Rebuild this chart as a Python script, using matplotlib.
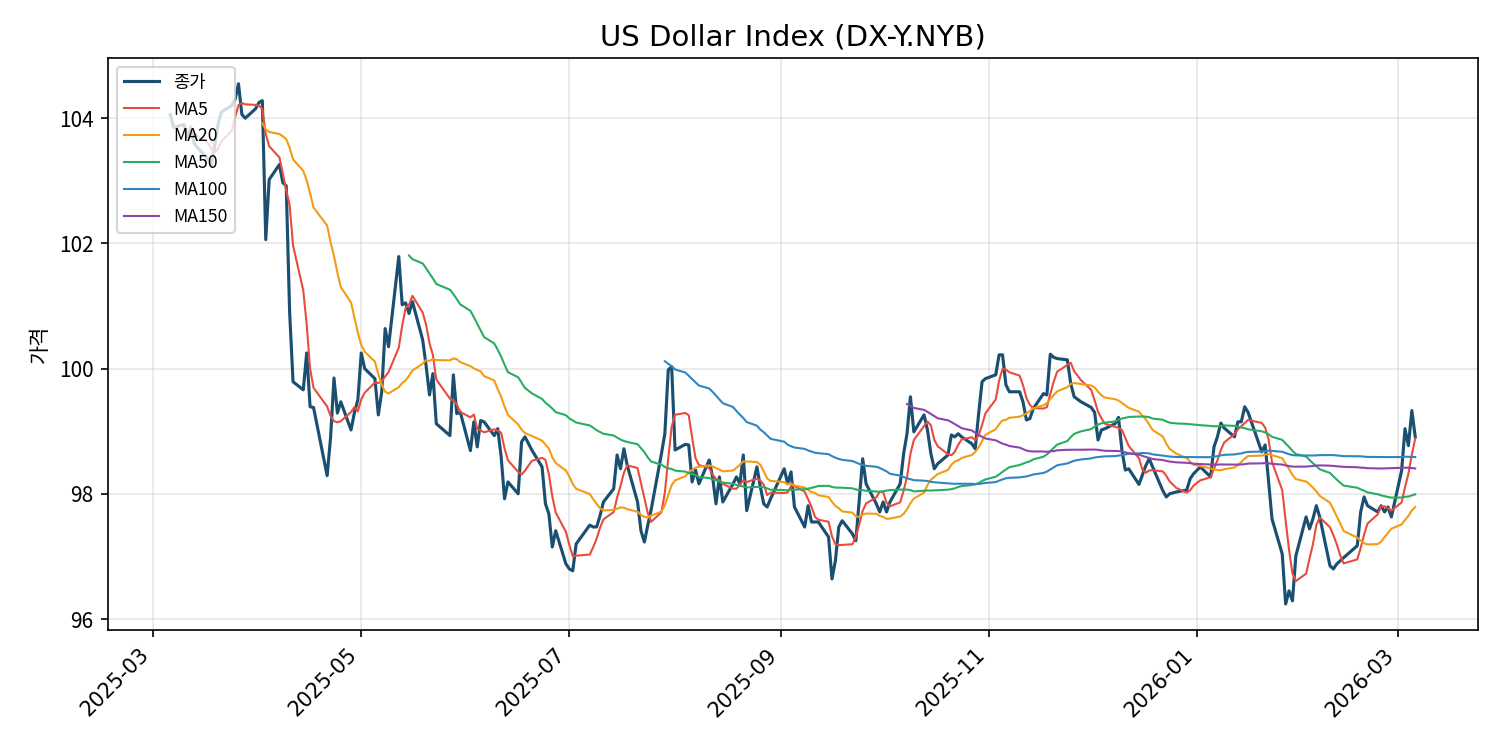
import matplotlib
matplotlib.use("Agg")
import matplotlib.pyplot as plt
import matplotlib.dates as mdates
import pandas as pd

plt.rcParams['font.family'] = ['Noto Sans CJK KR', 'DejaVu Sans']
plt.rcParams['axes.unicode_minus'] = False

# trading days (ICE closures removed)
holidays = ['2025-04-18', '2025-05-26', '2025-06-19', '2025-07-04', '2025-09-01',
            '2025-11-27', '2025-12-25', '2026-01-01', '2026-01-19', '2026-02-16']
dates = pd.bdate_range('2025-03-06', '2026-03-06').drop(pd.to_datetime(holidays))

# daily close
close_2025_03 = [104.06, 103.85, 103.90, 103.70, 103.85, 103.60, 103.53, 103.35, 103.24, 103.55,
                 103.90, 104.10, 104.20, 104.30, 104.55, 104.06, 104.00, 104.15]
close_2025_04 = [104.25, 104.28, 102.06, 103.02, 103.26, 102.97, 102.92, 100.90, 99.79, 99.66,
                 100.25, 99.39, 99.38, 98.29, 98.90, 99.85, 99.29, 99.47, 99.02, 99.30, 99.50]
close_2025_05 = [100.25, 100.00, 99.84, 99.26, 99.63, 100.64, 100.35, 101.79, 101.02, 101.05,
                 100.88, 101.07, 100.46, 100.05, 99.58, 99.92, 99.12, 98.93, 99.90, 99.28, 99.31]
close_2025_06 = [98.69, 99.15, 98.75, 99.17, 99.15, 98.93, 99.04, 98.60, 97.92, 98.19,
                 98.00, 98.83, 98.91, 98.70, 98.43, 97.84, 97.68, 97.15, 97.41, 96.88]
close_2025_07 = [96.80, 96.77, 97.20, 97.50, 97.47, 97.47, 97.65, 97.87, 98.08, 98.62,
                 98.40, 98.72, 98.45, 97.87, 97.41, 97.23, 97.50, 97.75, 98.64, 98.96, 99.98, 100.03]
close_2025_08 = [98.70, 98.79, 98.78, 98.19, 98.38, 98.16, 98.54, 98.27, 97.84, 98.27,
                 97.87, 98.16, 98.27, 98.16, 98.62, 97.73, 98.43, 98.11, 97.84, 97.79, 97.92]
close_2025_09 = [98.40, 98.16, 98.35, 97.79, 97.47, 97.81, 97.55, 97.55, 97.55,
                 97.31, 96.64, 96.93, 97.47, 97.57, 97.36, 97.25, 97.90, 98.56, 98.16, 97.84, 97.71]
close_2025_10 = [97.87, 97.71, 97.87, 98.16, 98.64, 98.96, 99.55, 98.99, 99.26, 99.02,
                 98.64, 98.40, 98.48, 98.62, 98.94, 98.91, 98.96, 98.91, 98.80, 98.72, 99.28, 99.79, 99.84]
close_2025_11 = [99.90, 100.22, 100.22, 99.74, 99.63, 99.63, 99.47, 99.18, 99.20, 99.36,
                 99.60, 99.58, 100.23, 100.18, 100.16, 100.14, 99.76, 99.55, 99.47]
close_2025_12 = [99.38, 99.30, 98.86, 99.02, 99.04, 99.12, 99.22, 98.70, 98.38, 98.40,
                 98.15, 98.30, 98.45, 98.56, 98.43, 98.05, 97.95, 98.00, 98.03, 98.06, 98.24, 98.32]
close_2026_01 = [98.43, 98.27, 98.75, 98.91, 99.13, 99.05, 98.91, 99.15, 99.15, 99.39,
                 99.30, 98.67, 98.78, 98.20, 97.60, 97.04, 96.24, 96.45, 96.29, 97.01]
close_2026_02 = [97.63, 97.44, 97.60, 97.81, 97.63, 96.85, 96.80, 96.88, 96.93, 96.98,
                 97.17, 97.71, 97.95, 97.81, 97.71, 97.81, 97.71, 97.79, 97.63]
close_2026_03 = [98.37, 99.04, 98.77, 99.33, 98.91]

close = pd.Series(close_2025_03 + close_2025_04 + close_2025_05 + close_2025_06 + close_2025_07
                  + close_2025_08 + close_2025_09 + close_2025_10 + close_2025_11 + close_2025_12
                  + close_2026_01 + close_2026_02 + close_2026_03, index=dates)

ma_windows = [5, 20, 50, 100, 150]
ma_colors = ['#E74C3C', '#F39C12', '#27AE60', '#2E86C1', '#8E44AD']

fig, ax = plt.subplots(figsize=(10, 5), dpi=150)
ax.plot(close.index, close.values, color='#1B4F72', linewidth=1.5, label='종가')
for w, c in zip(ma_windows, ma_colors):
    ma = close.rolling(w).mean()
    ax.plot(ma.index, ma.values, color=c, linewidth=1.0, label=f'MA{w}')

ax.set_title('US Dollar Index (DX-Y.NYB)', fontsize=14, family=['DejaVu Sans'])
ax.set_ylabel('가격')
ax.grid(True, alpha=0.3)
ax.legend(loc='upper left', fontsize=8.5)
ax.xaxis.set_major_locator(mdates.MonthLocator(bymonth=[1, 3, 5, 7, 9, 11]))
ax.xaxis.set_major_formatter(mdates.DateFormatter('%Y-%m'))
plt.setp(ax.get_xticklabels(), rotation=45, ha='right', family=['DejaVu Sans'])

fig.subplots_adjust(left=0.072, right=0.985, top=0.923, bottom=0.16)
plt.savefig('out.png')
